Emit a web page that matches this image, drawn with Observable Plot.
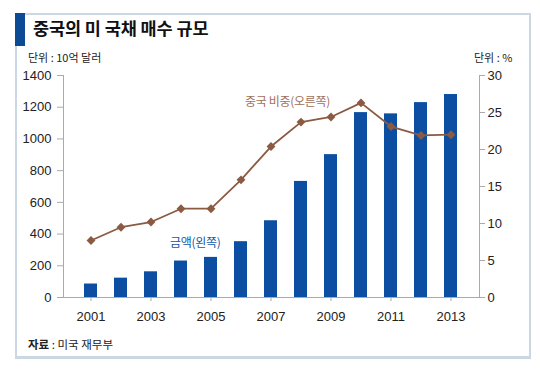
<!DOCTYPE html>
<html><head><meta charset="utf-8">
<script src="https://cdn.jsdelivr.net/npm/d3@7"></script>
<script src="https://cdn.jsdelivr.net/npm/@observablehq/plot@0.6"></script>
<style>
body{margin:0;background:#fff;}
#wrap{position:relative;width:540px;height:373px;overflow:hidden;font-family:"Noto Sans CJK KR",sans-serif;}
#frame{position:absolute;left:15px;top:13px;width:512px;height:341px;border:2px solid #cbd8e4;border-bottom-width:3px;}
#bar{position:absolute;left:15px;top:13px;width:10px;height:33px;background:#0b4a94;}
#title{position:absolute;left:33px;top:15px;font-size:17.5px;font-weight:bold;color:#111;letter-spacing:-0.1px;}
.unit{position:absolute;font-size:11px;color:#222;}
#src{position:absolute;left:28px;top:336px;font-size:11.5px;color:#222;}
.ann{position:absolute;font-size:12px;letter-spacing:-0.3px;}
#plot{position:absolute;left:0;top:60px;}
</style></head><body>
<div id="wrap">
  <div id="frame"></div>
  <div id="bar"></div>
  <div id="title">중국의 미 국채 매수 규모</div>
  <div class="unit" style="left:28px;top:49px;">단위 : 10억 달러</div>
  <div class="unit" style="left:474px;top:49px;">단위 : %</div>
  <div id="src"><b>자료</b> : 미국 재무부</div>
  <div id="plot"></div>
  <div class="ann" style="left:245px;top:92px;color:#a0705a;">중국 비중(오른쪽)</div>
  <div class="ann" style="left:170px;top:233px;color:#1556a8;">금액(왼쪽)</div>
</div>
<script>
const years = [2001,2002,2003,2004,2005,2006,2007,2008,2009,2010,2011,2012,2013];
const amount = [85,122,162,230,253,352,484,732,901,1166,1158,1229,1280];
const share = [7.7,9.5,10.2,12.0,12.0,15.9,20.4,23.7,24.4,26.3,23.1,21.9,22.0];
const leftTicks = [0,200,400,600,800,1000,1200,1400];
const rightTicks = [0,5,10,15,20,25,30];
const xTickYears = [2001,2003,2005,2007,2009,2011,2013];

const LMAX = 1400, RMAX = 30;
const toLeft = v => v * LMAX / RMAX;
const data = years.map((y,i)=>({year:String(y), amount:amount[i], share:share[i]}));

const numFont = '"Liberation Sans Narrow","Liberation Sans",sans-serif';
const chart = Plot.plot({
  width: 540, height: 267,
  marginLeft: 63, marginRight: 61, marginTop: 15, marginBottom: 30,
  style: {fontFamily: numFont, fontSize: "13px", color: "#222", background: "transparent"},
  x: {type: "band", domain: years.map(String), padding: 0.55, align: 0.5},
  y: {domain: [0, LMAX]},
  marks: [
    Plot.barY(data, {x: "year", y: "amount", fill: "#0b4ea2"}),
    Plot.line(data, {x: "year", y: d => toLeft(d.share), stroke: "#8b5a42", strokeWidth: 1.8}),
    Plot.dot(data, {x: "year", y: d => toLeft(d.share), symbol: "diamond2", r: 4, fill: "#8b5a42", stroke: "none"}),
    Plot.frame({anchor: "left", stroke: "#aaa"}),
    Plot.frame({anchor: "right", stroke: "#aaa"}),
    Plot.ruleY([0], {stroke: "#aaa"}),
    Plot.axisY(leftTicks, {anchor: "left", tickSize: 6, tickPadding: 6, stroke: "#aaa", fill: "#222", label: null, tickFormat: d => String(d)}),
    Plot.axisY(rightTicks.map(toLeft), {anchor: "right", tickSize: 5, tickPadding: 3, stroke: "#aaa", fill: "#222", label: null, tickFormat: d => String(Math.round(d * RMAX / LMAX))}),
    Plot.axisX(xTickYears.map(String), {anchor: "bottom", tickSize: 4, tickPadding: 10, stroke: "#aaa", fill: "#222", label: null})
  ]
});
document.getElementById("plot").appendChild(chart);
</script>
</body></html>
